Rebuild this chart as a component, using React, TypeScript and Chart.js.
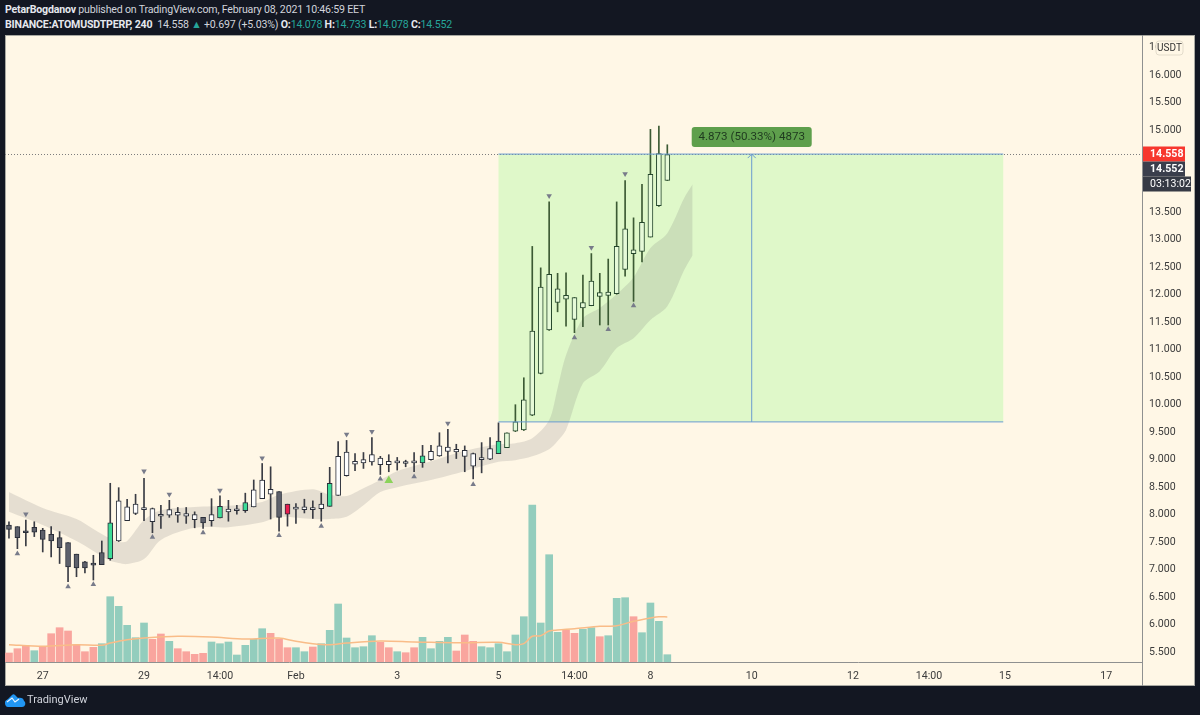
import React, { useRef, useEffect } from "react";
import { Chart, registerables } from "chart.js";

Chart.register(...registerables);

const FONT = 'Roboto, sans-serif';

const opens = [
  7.81, 7.78, 7.68, 7.77, 7.72, 7.64, 7.58, 7.49, 7.28, 7.14, 7.09, 7.09, 7.2, 7.52, 7.89, 8.02, 8.09, 7.87, 7.97, 7.99, 7.99, 7.97, 7.91, 7.95, 7.89, 7.94, 8.05, 8.07, 8.07, 8.14,
  8.29, 8.37, 8.42, 8.19, 8.11, 8.09, 8.09, 8.11, 8.15, 8.35, 8.71, 8.92, 8.94, 8.96, 8.91, 8.91, 8.95, 8.93, 8.95, 8.94, 9.0, 9.07, 9.15, 9.14, 9.06, 8.88, 9.0, 9.01, 9.11, 9.22,
  9.52, 9.54, 9.81, 10.57, 11.36, 11.86, 11.92, 11.55, 11.76, 11.8, 11.97, 11.99, 12.02, 12.46, 12.75, 12.79, 13.05, 13.62, 14.08,
];
const closes = [
  7.73, 7.58, 7.67, 7.68, 7.55, 7.52, 7.4, 7.05, 7.03, 7.03, 7.08, 7.31, 7.85, 8.25, 8.14, 8.19, 8.13, 8.11, 8.0, 8.09, 8.04, 8.02, 8.0, 7.85, 8.0, 8.15, 8.1, 8.08, 8.22, 8.45,
  8.63, 8.46, 7.95, 8.01, 8.1, 8.14, 8.13, 8.19, 8.57, 9.06, 9.14, 8.97, 9.0, 9.09, 9.03, 8.97, 8.94, 8.94, 8.94, 9.07, 9.15, 9.25, 9.23, 9.19, 9.17, 9.11, 9.03, 9.2, 9.34, 9.49,
  9.69, 10.09, 11.34, 12.14, 12.37, 12.11, 11.99, 11.95, 11.86, 12.25, 12.04, 12.05, 12.88, 13.2, 12.82, 13.32, 14.19, 14.57, 14.55,
];
const highs = [
  7.87, 7.78, 7.9, 7.87, 7.75, 7.78, 7.69, 7.49, 7.28, 7.15, 7.26, 7.52, 8.57, 8.49, 8.28, 8.37, 8.66, 8.12, 8.17, 8.26, 8.13, 8.13, 8.05, 7.95, 8.29, 8.34, 8.26, 8.17, 8.39, 8.63,
  8.93, 8.87, 8.42, 8.19, 8.2, 8.28, 8.25, 8.39, 8.86, 9.33, 9.35, 9.11, 9.13, 9.4, 9.06, 9.09, 9.04, 8.99, 9.13, 9.26, 9.26, 9.49, 9.55, 9.28, 9.25, 9.12, 9.31, 9.4, 9.67, 9.49,
  10.0, 10.49, 12.88, 12.49, 13.69, 12.39, 12.4, 11.95, 12.36, 12.75, 12.39, 12.65, 13.69, 14.08, 13.4, 14.01, 15.01, 15.07, 14.73,
];
const lows = [
  7.57, 7.38, 7.43, 7.6, 7.32, 7.23, 7.11, 6.78, 6.87, 6.94, 6.81, 7.09, 7.17, 7.51, 7.89, 8.0, 7.89, 7.67, 7.75, 7.95, 7.86, 7.84, 7.76, 7.75, 7.79, 7.94, 7.88, 8.01, 8.04, 8.14,
  8.29, 7.92, 7.7, 7.79, 7.84, 8.03, 7.93, 7.88, 8.15, 8.35, 8.7, 8.8, 8.84, 8.9, 8.73, 8.78, 8.81, 8.87, 8.78, 8.86, 8.99, 9.06, 8.94, 9.02, 8.78, 8.65, 8.76, 9.0, 9.11, 9.22,
  9.51, 9.53, 9.8, 10.56, 11.35, 11.69, 11.43, 11.31, 11.42, 11.8, 11.45, 11.45, 12.01, 12.34, 11.88, 12.6, 13.05, 13.61, 14.08,
];
// d = dark, w = white, g = green, r = red, t = white candle inside the green range box
const candleKinds =
  "ddddddddddddgwwwwwwwwwwdwgwwgwwwdrwwwwgwwwwwwwwwwgwwwwwwwwgttttttttttttttttttttt".slice(0, 79);

const volumes = [
  9, 13.3, 16.3, 11.3, 14.7, 28.3, 34.3, 31, 17.3, 10.3, 14.7, 18.3, 65.3, 55.7, 36.7, 24.3, 39, 22.7, 28, 20.7, 13.3, 10.3, 7.7, 8.7, 20, 18.3, 20, 7, 16.7, 22.7,
  33.3, 28.7, 23, 14.3, 14.3, 10.3, 15, 18.3, 31.7, 58, 24, 14.3, 15.3, 26.3, 19.7, 14.3, 10.3, 9.3, 14.3, 24.7, 13.3, 20.7, 24.7, 11, 27, 20.7, 15.3, 14.3, 18.3, 10.3,
  27, 45.3, 157, 39, 107.3, 29.7, 32, 28.7, 32.7, 34.3, 25.3, 26.3, 63.7, 64.3, 45.3, 29.3, 59, 40.7, 7.3,
];
const volumeDownBars = [0, 1, 2, 4, 5, 6, 7, 8, 9, 10, 17, 18, 20, 21, 22, 23, 31, 32, 33, 36, 44, 45, 47, 48, 53, 54, 55, 66, 67, 70, 74];

const volumeMaBars = [0, 4, 8, 11, 12, 13, 14, 16, 20, 24, 28, 32, 34, 36, 38, 40, 44, 48, 50, 54, 58, 60, 61, 62, 63, 64, 65, 67, 70, 72, 74, 76, 77, 78];
const volumeMa = [17.3, 15.7, 17.3, 16.7, 19, 20.7, 22.3, 24, 25.7, 25, 23, 24, 20.7, 18.3, 17.3, 19, 21, 20, 19.7, 19.3, 19.7, 17.3, 18.3, 25.7, 26.3, 31, 32, 33.3, 35.7, 36.3, 40.7, 44, 45.3, 45];

const bandBars = [0, 4, 8, 10, 12, 13, 14, 16, 18, 22, 26, 30, 32, 36, 38, 40, 42, 44, 46, 50, 54, 58, 60, 62, 64, 65, 66, 68, 70, 72, 74, 76, 78, 80, 81];
const bandUpper = [8.41, 8.12, 7.92, 7.74, 7.56, 7.5, 7.52, 7.9, 8.08, 8.14, 8.16, 8.23, 8.36, 8.46, 8.36, 8.34, 8.48, 8.63, 8.79, 8.97, 9.16, 9.28, 9.3, 9.39, 9.72, 10.3, 10.9, 11.57, 11.76, 12.01, 12.32, 12.85, 13.12, 13.76, 14.01];
const bandLower = [8.05, 7.81, 7.52, 7.34, 7.16, 7.12, 7.1, 7.19, 7.54, 7.76, 7.77, 7.86, 7.96, 7.92, 7.92, 7.96, 8.17, 8.41, 8.5, 8.63, 8.79, 8.96, 8.99, 9.06, 9.19, 9.34, 9.54, 10.39, 10.61, 11.03, 11.21, 11.54, 11.79, 12.45, 12.72];

const swingHighBars = [2, 16, 19, 25, 30, 40, 43, 52, 64, 69, 73];
const swingHighs = [8.01, 8.79, 8.37, 8.44, 9.03, 9.46, 9.51, 9.66, 13.8, 12.86, 14.2];
const swingLowBars = [1, 7, 10, 17, 23, 32, 37, 44, 48, 55, 67, 71, 74];
const swingLows = [7.29, 6.69, 6.73, 7.59, 7.67, 7.62, 7.79, 8.65, 8.69, 8.55, 11.22, 11.37, 11.8];
const signalBars = [45];
const signalPrices = [8.62];

const priceTicks = [5.5, 6, 6.5, 7, 7.5, 8, 8.5, 9, 9.5, 10, 10.5, 11, 11.5, 12, 12.5, 13, 13.5, 14, 14.5, 15, 15.5, 16, 16.5];
const timeTickBars = [4, 16, 25, 34, 46, 58, 67, 76, 88, 100, 109, 118, 130];
const timeTickLabels = ["27", "29", "14:00", "Feb", "3", "5", "14:00", "8", "10", "12", "14:00", "15", "17"];

const lastPrice = 14.558;
const rangeStartBar = 58;
const rangeEndBar = 117.8;
const rangeMidBar = 88;
const rangeTop = 14.56;
const rangeBottom = 9.687;
const rangeLabel = "4.873 (50.33%) 4873";

const candleColors: Record<string, string> = { d: "#5d606b", w: "#ffffff", g: "#3ddc97", r: "#e91e4f", t: "#e6fad8" };

const overlayPlugin = {
  id: "overlay",
  beforeDatasetsDraw(chart: any) {
    const { ctx, chartArea, scales } = chart;
    const y = Math.round(scales.y.getPixelForValue(lastPrice)) + 0.5;
    const left = scales.x.getPixelForValue(rangeStartBar);
    const right = scales.x.getPixelForValue(rangeEndBar);
    const top = scales.y.getPixelForValue(rangeTop);
    const bottom = scales.y.getPixelForValue(rangeBottom);
    ctx.save();
    ctx.fillStyle = "#dff8c9";
    ctx.fillRect(left, top, right - left, bottom - top);
    ctx.strokeStyle = "#7d7d7d";
    ctx.lineWidth = 1;
    ctx.setLineDash([1, 2]);
    ctx.beginPath();
    ctx.moveTo(chartArea.left, y);
    ctx.lineTo(chartArea.right, y);
    ctx.stroke();
    ctx.restore();
  },
  afterDatasetsDraw(chart: any) {
    const { ctx, scales } = chart;
    const left = scales.x.getPixelForValue(rangeStartBar);
    const right = scales.x.getPixelForValue(rangeEndBar);
    const mid = scales.x.getPixelForValue(rangeMidBar);
    const top = scales.y.getPixelForValue(rangeTop);
    const bottom = scales.y.getPixelForValue(rangeBottom);
    ctx.save();
    ctx.strokeStyle = "#6a9bd0";
    ctx.lineWidth = 1;
    ctx.beginPath();
    ctx.moveTo(left, top);
    ctx.lineTo(right, top);
    ctx.moveTo(left, bottom);
    ctx.lineTo(right, bottom);
    ctx.moveTo(mid, bottom);
    ctx.lineTo(mid, top);
    ctx.moveTo(mid - 4, top + 4);
    ctx.lineTo(mid, top);
    ctx.lineTo(mid + 4, top + 4);
    ctx.stroke();

    ctx.fillStyle = "#5e9f4c";
    ctx.beginPath();
    ctx.roundRect(mid - 60, top - 27, 120, 20, 3);
    ctx.fill();
    ctx.fillStyle = "#1f3a1f";
    ctx.font = `11.6px ${FONT}`;
    ctx.textAlign = "center";
    ctx.textBaseline = "middle";
    ctx.fillText(rangeLabel, mid, top - 17);
    ctx.restore();
  },
  afterDraw(chart: any) {
    const { ctx, chartArea, scales } = chart;
    const axisX = chartArea.right + 1;
    const y = Math.round(scales.y.getPixelForValue(lastPrice));
    ctx.save();
    ctx.strokeStyle = "#8f9090";
    ctx.beginPath();
    ctx.moveTo(axisX - 0.5, chartArea.bottom);
    ctx.lineTo(axisX - 0.5, 686);
    ctx.stroke();

    ctx.textBaseline = "middle";
    ctx.textAlign = "left";
    ctx.font = `bold 10.6px ${FONT}`;
    const tag = (fill: string, dy: number, w: number, text: string) => {
      ctx.fillStyle = fill;
      ctx.fillRect(axisX, y + dy - 7.5, w, 15);
      ctx.fillStyle = "#ffffff";
      ctx.fillText(text, axisX + 7, y + dy + 0.5);
    };
    tag("#f7372e", 0, 42, "14.558");
    tag("#3a3e4c", 15, 42, "14.552");
    ctx.font = `10.6px ${FONT}`;
    tag("#363a45", 30, 48, "03:13:02");

    // USDT badge sits on the 16.500 label, as on the original
    ctx.fillStyle = "#fff7e6";
    ctx.strokeStyle = "#e3dccb";
    ctx.beginPath();
    ctx.roundRect(1156, 41, 27, 14, 3);
    ctx.fill();
    ctx.stroke();
    ctx.fillStyle = "#333333";
    ctx.font = `10px ${FONT}`;
    ctx.textAlign = "center";
    ctx.fillText("USDT", 1169.5, 48.5);
    ctx.restore();
  },
};

const pts = (xs: number[], ys: number[]) => xs.map((x, i) => ({ x, y: ys[i] }));

const App: React.FC = () => {
  const chartRef = useRef<HTMLCanvasElement>(null);

  useEffect(() => {
    if (!chartRef.current) return;
    const bars = opens.map((_, i) => i);
    const inRange = (i: number) => candleKinds[i] === "t";

    const chart = new Chart(chartRef.current, {
      type: "bar",
      data: {
        datasets: [
          {
            type: "line",
            data: pts(bandBars, bandUpper),
            yAxisID: "y",
            borderWidth: 0,
            pointRadius: 0,
            tension: 0.3,
            order: 11,
          },
          {
            type: "line",
            data: pts(bandBars, bandLower),
            yAxisID: "y",
            borderWidth: 0,
            pointRadius: 0,
            tension: 0.3,
            fill: "-1",
            backgroundColor: "rgba(125, 125, 125, 0.2)",
            order: 10,
          },
          {
            type: "bar",
            data: bars.map(i => ({ x: i, y: volumes[i] })),
            yAxisID: "y1",
            grouped: false,
            barThickness: 7,
            backgroundColor: bars.map(i => (volumeDownBars.includes(i) ? "#f9a59e" : "#93cdbd")),
            order: 8,
          },
          {
            type: "line",
            data: pts(volumeMaBars, volumeMa),
            yAxisID: "y1",
            borderColor: "#f9bc88",
            borderWidth: 1.5,
            pointRadius: 0,
            tension: 0.3,
            order: 7,
          },
          {
            type: "bar",
            data: bars.map(i => ({ x: i, y: [lows[i], highs[i]] })),
            yAxisID: "y",
            grouped: false,
            barThickness: 1,
            backgroundColor: bars.map(i => (inRange(i) ? "#3c5a34" : "#3a3c44")),
            order: 4,
          },
          {
            type: "bar",
            data: bars.map(i => ({ x: i, y: [opens[i], closes[i]] })),
            yAxisID: "y",
            grouped: false,
            barThickness: 5,
            minBarLength: 2,
            backgroundColor: bars.map(i => candleColors[candleKinds[i]]),
            borderColor: bars.map(i => (inRange(i) ? "#23452b" : "#2a2e39")),
            borderWidth: 1,
            borderSkipped: false,
            order: 3,
          },
          {
            type: "line",
            data: pts(swingHighBars, swingHighs),
            yAxisID: "y",
            showLine: false,
            pointStyle: "triangle",
            rotation: 180,
            pointRadius: 3.2,
            pointBorderWidth: 0,
            backgroundColor: "#787b8a",
            order: 2,
          },
          {
            type: "line",
            data: pts(swingLowBars, swingLows),
            yAxisID: "y",
            showLine: false,
            pointStyle: "triangle",
            pointRadius: 3.2,
            pointBorderWidth: 0,
            backgroundColor: "#787b8a",
            order: 2,
          },
          {
            type: "line",
            data: pts(signalBars, signalPrices),
            yAxisID: "y",
            showLine: false,
            pointStyle: "triangle",
            pointRadius: 5,
            pointBorderWidth: 0,
            backgroundColor: "#8bd35a",
            order: 2,
          },
        ] as any,
      },
      options: {
        responsive: false,
        animation: false,
        layout: { padding: { left: 5, top: 35, right: 5, bottom: 29 } },
        plugins: { legend: { display: false }, tooltip: { enabled: false } },
        scales: {
          x: {
            type: "linear",
            offset: false,
            min: -0.47,
            max: 134.24,
            grid: { display: false, drawTicks: true, tickLength: 4, tickColor: "#8f9090" } as any,
            border: { color: "#8f9090" },
            afterFit: (s: any) => {
              s.height = 24;
            },
            afterBuildTicks: (s: any) => {
              s.ticks = timeTickBars.map(value => ({ value }));
            },
            ticks: {
              autoSkip: false,
              maxRotation: 0,
              color: "#3c3c3c",
              font: { family: FONT, size: 10.6 },
              padding: 4,
              callback: (v: any) => timeTickLabels[timeTickBars.indexOf(v)],
            },
          },
          y: {
            type: "linear",
            position: "right",
            min: 5.318,
            max: 16.727,
            grid: { display: false, tickLength: 4, tickColor: "#8f9090" } as any,
            border: { color: "#8f9090" },
            afterFit: (s: any) => {
              s.width = 53;
            },
            afterBuildTicks: (s: any) => {
              s.ticks = priceTicks.map(value => ({ value }));
            },
            ticks: {
              autoSkip: false,
              color: "#3c3c3c",
              font: { family: FONT, size: 10.6 },
              padding: 3,
              callback: (v: any) => Number(v).toFixed(3),
            },
          },
          y1: {
            type: "linear",
            display: false,
            min: 0,
            max: 627,
          },
        },
      },
      plugins: [overlayPlugin],
    } as any);

    return () => chart.destroy();
  }, []);

  const teal = { color: "#26a69a" };
  const bold = { fontWeight: 700, color: "#e6e8ee" };

  return (
    <div style={{ position: "fixed", left: 0, top: 0, width: 1200, height: 715, background: "#131722", fontFamily: FONT, overflow: "hidden" }}>
      <div style={{ position: "absolute", left: 5, top: 2, fontSize: 10.6, letterSpacing: "-0.18px", lineHeight: "15px", color: "#d1d4dc", whiteSpace: "nowrap" }}>
        <span style={bold}>PetarBogdanov</span> published on TradingView.com, February 08, 2021 10:46:59 EET
      </div>
      <div style={{ position: "absolute", left: 5, top: 17, fontSize: 10.6, letterSpacing: "-0.18px", lineHeight: "15px", color: "#d1d4dc", whiteSpace: "pre" }}>
        <span style={bold}>BINANCE:ATOMUSDTPERP, 240</span>
        {"  14.558 "}
        <span style={teal}>▲</span>
        {" +0.697 (+5.03%) "}
        <span style={bold}>O:</span><span style={teal}>14.078</span>{" "}
        <span style={bold}>H:</span><span style={teal}>14.733</span>{" "}
        <span style={bold}>L:</span><span style={teal}>14.078</span>{" "}
        <span style={bold}>C:</span><span style={teal}>14.552</span>
      </div>
      <div style={{ position: "absolute", left: 5, top: 35, width: 1190, height: 651, boxSizing: "border-box", background: "#fff7e6", border: "1px solid #a9a9a2" }} />
      <canvas ref={chartRef} width={1200} height={715} style={{ position: "absolute", left: 0, top: 0 }} />
      <svg width="22" height="14" viewBox="0 0 22 14" style={{ position: "absolute", left: 4, top: 694 }}>
        <path d="M1 9 C1 6 3 6 4 5 L8 1 C9 0 10 0 11 1 L14 4 C16 3 20 4 20 7 C22 8 22 13 18 13 L4 13 C2 13 1 11 1 9 Z" fill="#2196f3" />
        <path d="M3 8 L8 4 L11 8 L15 5" fill="none" stroke="#e8f4ff" strokeWidth="1.2" />
      </svg>
      <div style={{ position: "absolute", left: 27, top: 692, fontSize: 11, lineHeight: "16px", color: "#d1d4dc" }}>TradingView</div>
    </div>
  );
};

export default App;
